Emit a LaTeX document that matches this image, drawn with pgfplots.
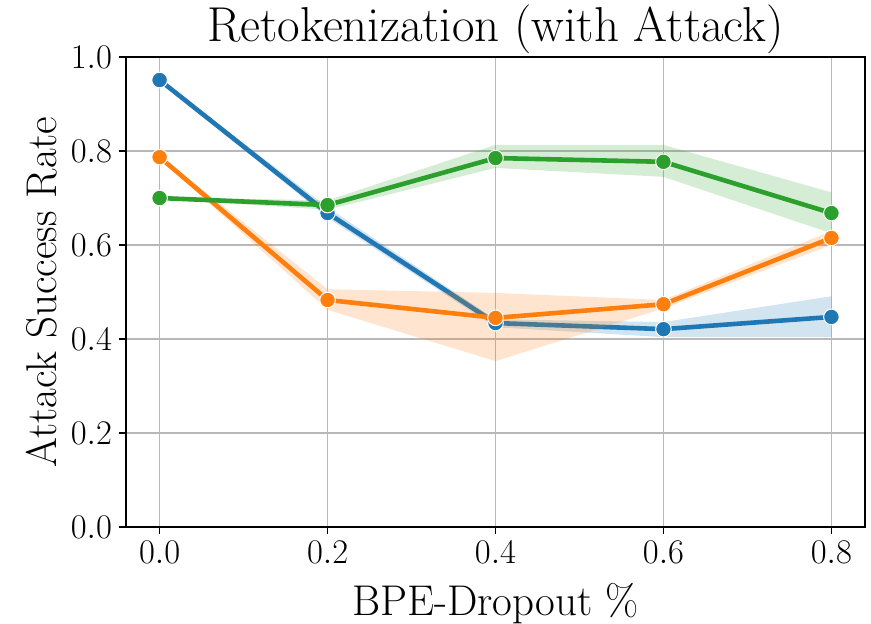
\documentclass[border=0pt]{standalone}
\usepackage{pgfplots}
\pgfplotsset{compat=1.18}
\definecolor{tblue}{HTML}{1F77B4}
\definecolor{torange}{HTML}{FF7F0E}
\definecolor{tgreen}{HTML}{2CA02C}
\begin{document}
\begin{tikzpicture}
\begin{axis}[
  scale only axis,
  width=369.5pt, height=235pt,
  xmin=-0.04, xmax=0.84, ymin=0, ymax=1,
  xtick={0,0.2,0.4,0.6,0.8},
  ytick={0,0.2,0.4,0.6,0.8,1.0},
  xticklabel style={/pgf/number format/.cd,fixed,fixed zerofill,precision=1},
  yticklabel style={/pgf/number format/.cd,fixed,fixed zerofill,precision=1},
  tick label style={font=\fontsize{16.5}{20}\selectfont},
  tick align=outside,
  major tick length=3.5pt,
  tick style={black, line width=0.6pt},
  xtick pos=bottom, ytick pos=left,
  grid=major,
  major grid style={color=black!28, line width=0.8pt},
  axis line style={black, line width=0.8pt},
  title={Retokenization (with Attack)},
  title style={font=\fontsize{24.5}{28}\selectfont, yshift=-8pt},
  xlabel={BPE-Dropout \%},
  ylabel={Attack Success Rate},
  label style={font=\fontsize{21.5}{25}\selectfont},
  ylabel style={at={(axis description cs:0,0.5)}, anchor=center, yshift=42pt},
  xlabel style={yshift=-3pt},
  clip=false,
]
% blue
\addplot[fill=tblue, fill opacity=0.2, draw=none, forget plot] coordinates {
 (0,0.953) (0.2,0.680) (0.4,0.442) (0.6,0.436) (0.8,0.491)
 (0.8,0.404) (0.6,0.404) (0.4,0.425) (0.2,0.658) (0,0.949)} -- cycle;
\addplot[color=tblue, line width=2.3pt, mark=*, mark size=3.9pt,
  mark options={fill=tblue, draw=white, line width=0.5pt}] coordinates {
 (0,0.951) (0.2,0.668) (0.4,0.434) (0.6,0.421) (0.8,0.447)};
% orange
\addplot[fill=torange, fill opacity=0.2, draw=none, forget plot] coordinates {
 (0,0.790) (0.2,0.506) (0.4,0.498) (0.6,0.483) (0.8,0.630)
 (0.8,0.600) (0.6,0.465) (0.4,0.353) (0.2,0.462) (0,0.784)} -- cycle;
\addplot[color=torange, line width=2.3pt, mark=*, mark size=3.9pt,
  mark options={fill=torange, draw=white, line width=0.5pt}] coordinates {
 (0,0.787) (0.2,0.483) (0.4,0.445) (0.6,0.474) (0.8,0.615)};
% green
\addplot[fill=tgreen, fill opacity=0.2, draw=none, forget plot] coordinates {
 (0,0.702) (0.2,0.695) (0.4,0.813) (0.6,0.813) (0.8,0.712)
 (0.8,0.625) (0.6,0.745) (0.4,0.764) (0.2,0.675) (0,0.698)} -- cycle;
\addplot[color=tgreen, line width=2.3pt, mark=*, mark size=3.9pt,
  mark options={fill=tgreen, draw=white, line width=0.5pt}] coordinates {
 (0,0.700) (0.2,0.685) (0.4,0.785) (0.6,0.777) (0.8,0.668)};
\end{axis}
\pgfresetboundingbox
\path[use as bounding box] ([xshift=-63pt,yshift=-48pt]current axis.south west) rectangle ([xshift=3pt,yshift=28.5pt]current axis.north east);
\end{tikzpicture}
\end{document}
